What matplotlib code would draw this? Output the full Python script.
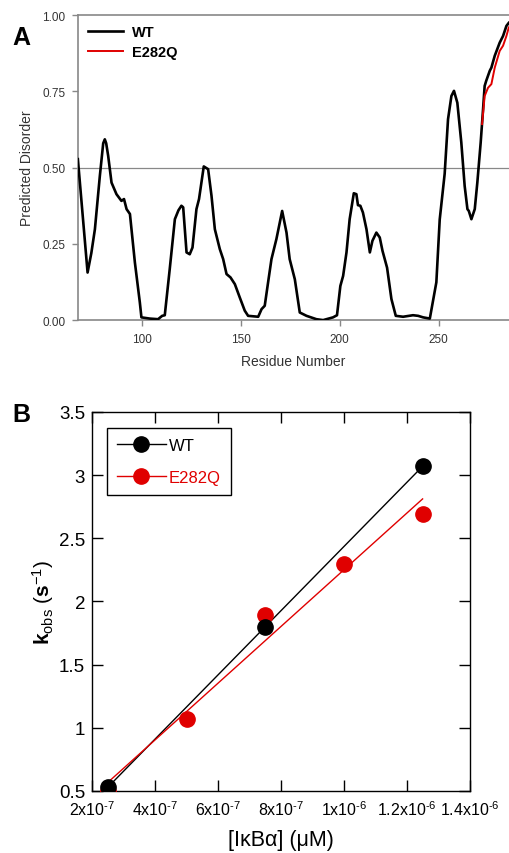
import numpy as np
import matplotlib.pyplot as plt

plt.rcParams['font.family'] = ['Liberation Sans', 'DejaVu Sans']
plt.rcParams['mathtext.fontset'] = 'custom'
plt.rcParams['mathtext.rm'] = 'Liberation Sans'
plt.rcParams['mathtext.it'] = 'Liberation Sans:italic'
plt.rcParams['mathtext.bf'] = 'Liberation Sans:bold'

RED = '#e00000'

# Panel A: predicted disorder per residue
wt_res = [67.7, 72.6, 74.5, 76.3, 78.8, 80.5, 81.3, 82.0, 83.0, 84.7, 87.2, 89.7,
          91.0, 92.3, 94.0, 96.5, 99.0, 99.8, 104.0, 108.2, 110.3, 111.6, 114.1,
          116.7, 118.5, 120.0, 120.9, 122.6, 124.2, 125.6, 127.6, 128.9, 131.3,
          133.5, 135.2, 136.9, 139.4, 141.1, 142.8, 144.8, 147.0, 149.5, 152.0,
          153.7, 158.8, 160.5, 162.1, 163.8, 165.5, 168.0, 170.9, 173.1, 174.7,
          177.3, 179.8, 183.2, 188.2, 191.6, 196.6, 198.6, 200.3, 201.7, 203.4,
          205.0, 207.1, 208.4, 209.2, 210.4, 211.7, 213.5, 215.2, 216.5, 218.5,
          220.2, 221.6, 223.9, 226.1, 228.3, 232.0, 237.0, 239.6, 242.1, 245.5,
          248.8, 250.5, 253.0, 254.7, 256.4, 257.7, 259.4, 261.4, 263.1, 264.5,
          265.2, 266.5, 268.2, 269.5, 271.2, 272.4, 273.2, 274.0, 275.8, 276.6,
          278.3, 280.8, 282.5, 284.2, 285.4]
wt_dis = [0.528, 0.156, 0.22, 0.298, 0.473, 0.58, 0.593, 0.58, 0.539, 0.451, 0.413,
          0.391, 0.397, 0.364, 0.348, 0.189, 0.058, 0.009, 0.005, 0.003, 0.014,
          0.016, 0.167, 0.331, 0.36, 0.375, 0.37, 0.222, 0.216, 0.238, 0.364,
          0.397, 0.504, 0.495, 0.408, 0.298, 0.233, 0.2, 0.151, 0.14, 0.118,
          0.074, 0.031, 0.014, 0.011, 0.036, 0.047, 0.124, 0.2, 0.266, 0.358,
          0.287, 0.2, 0.134, 0.025, 0.014, 0.003, 0.0, 0.009, 0.016, 0.112,
          0.145, 0.222, 0.331, 0.416, 0.413, 0.377, 0.375, 0.353, 0.298, 0.222,
          0.26, 0.287, 0.271, 0.227, 0.172, 0.069, 0.014, 0.011, 0.016, 0.014,
          0.009, 0.005, 0.124, 0.33, 0.48, 0.659, 0.735, 0.752, 0.713, 0.583,
          0.44, 0.364, 0.358, 0.331, 0.364, 0.451, 0.583, 0.692, 0.768, 0.785,
          0.818, 0.828, 0.867, 0.91, 0.932, 0.965, 0.975]
mut_res = [271.9, 273.2, 274.9, 276.6, 278.3, 280.8, 282.5, 284.2, 285.4]
mut_dis = [0.643, 0.735, 0.762, 0.774, 0.828, 0.883, 0.9, 0.932, 0.96]

# Panel B: observed rate vs IkBa concentration
wt_conc = [2.5e-7, 7.5e-7, 1.25e-6]
wt_kobs = [0.53, 1.80, 3.07]
mut_conc = [2.5e-7, 5e-7, 7.5e-7, 1e-6, 1.25e-6]
mut_kobs = [0.50, 1.07, 1.89, 2.30, 2.69]
conc_ticks = [2e-7, 4e-7, 6e-7, 8e-7, 1e-6, 1.2e-6, 1.4e-6]
conc_labels = [r'2x10$^{\text{-}7}$', r'4x10$^{\text{-}7}$', r'6x10$^{\text{-}7}$',
               r'8x10$^{\text{-}7}$', r'1x10$^{\text{-}6}$', r'1.2x10$^{\text{-}6}$',
               r'1.4x10$^{\text{-}6}$']

fig = plt.figure(figsize=(5.09, 8.54), dpi=100)

# ---- panel A ----
ax1 = fig.add_axes([0.153, 0.624, 0.847, 0.357])
gray = '#888888'
ax1.axhline(0.5, color=gray, lw=0.9, zorder=1)
ax1.plot(wt_res, wt_dis, color='black', lw=1.9, label='WT', zorder=3)
ax1.plot(mut_res, mut_dis, color=RED, lw=1.4, label='E282Q', zorder=4)
ax1.set_xlim(67.7, 285.5)
ax1.set_ylim(0, 1)
ax1.set_xticks([100, 150, 200, 250])
ax1.set_yticks([0, 0.25, 0.5, 0.75, 1.0])
ax1.set_yticklabels(['0.00', '0.25', '0.50', '0.75', '1.00'])
ax1.spines['right'].set_visible(False)
for s in ['left', 'top', 'bottom']:
    ax1.spines[s].set_color(gray)
    ax1.spines[s].set_linewidth(1.2)
ax1.tick_params(direction='out', length=4, width=1, color=gray,
                labelsize=8.5, labelcolor='#333333', pad=5)
ax1.set_xlabel('Residue Number', fontsize=10, color='#333333', labelpad=7)
ax1.set_ylabel('Predicted Disorder', fontsize=10, color='#333333', labelpad=6)
leg1 = ax1.legend(loc='upper left', frameon=False, handlelength=2.4,
                  fontsize=10.5, bbox_to_anchor=(0.0, 1.0), borderaxespad=0.3,
                  labelspacing=0.4, handletextpad=0.6)
for t in leg1.get_texts():
    t.set_fontweight('bold')
fig.text(0.025, 0.955, 'A', fontsize=18, fontweight='bold', va='center')

# ---- panel B ----
ax2 = fig.add_axes([0.181, 0.0726, 0.742, 0.4438])
ms = 11
fit_x = np.array([2.5e-7, 1.25e-6])
p_wt = np.polyfit(wt_conc, wt_kobs, 1)
p_mut = np.polyfit(mut_conc, mut_kobs, 1)
ax2.plot(fit_x, np.polyval(p_wt, fit_x), color='black', lw=1.0, zorder=2)
ax2.plot(fit_x, np.polyval(p_mut, fit_x), color=RED, lw=1.0, zorder=2)
ax2.plot(mut_conc, mut_kobs, 'o', color=RED, ms=ms, zorder=3)
ax2.plot(wt_conc, wt_kobs, 'o', color='black', ms=ms, zorder=4)
ax2.set_xlim(2e-7, 1.4e-6)
ax2.set_ylim(0.5, 3.5)
ax2.set_xticks(conc_ticks)
ax2.set_xticklabels(conc_labels, fontsize=11.5)
ax2.set_yticks([0.5, 1, 1.5, 2, 2.5, 3, 3.5])
ax2.set_yticklabels(['0.5', '1', '1.5', '2', '2.5', '3', '3.5'], fontsize=13.5)
ax2.tick_params(direction='in', length=8, width=1, top=True, right=True)
ax2.tick_params(axis='x', pad=6)
ax2.tick_params(axis='y', pad=5)
for s in ax2.spines.values():
    s.set_linewidth(1.0)
ax2.set_xlabel('[I\u03baB\u03b1] (\u03bcM)', fontsize=15.5, labelpad=8)
ax2.set_ylabel(r'$\mathbf{k}_{\rm obs}\ (\mathbf{s}^{-1})$', fontsize=15, labelpad=2)

h_wt, = ax2.plot([], [], 'o-', color='black', ms=ms, lw=1.0)
h_mut, = ax2.plot([], [], 'o-', color=RED, ms=ms, lw=1.0)
leg2 = ax2.legend([h_wt, h_mut], ['WT', 'E282Q'], loc='upper left',
                  bbox_to_anchor=(0.04, 0.958), borderaxespad=0, fontsize=12,
                  fancybox=False, edgecolor='black', framealpha=1,
                  handlelength=2.9, labelspacing=1.0, borderpad=0.6,
                  handletextpad=0.2)
leg2.get_frame().set_linewidth(1.0)
leg2.get_texts()[1].set_color(RED)
fig.text(0.025, 0.514, 'B', fontsize=18, fontweight='bold', va='center')

fig.savefig('out.png', dpi=100)
